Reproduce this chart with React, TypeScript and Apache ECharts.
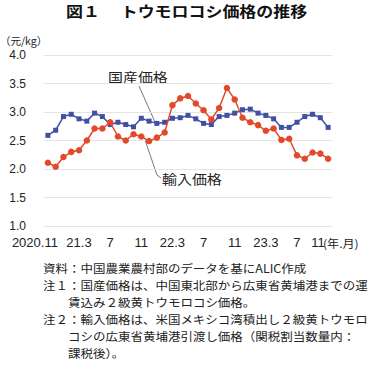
import React, { useEffect, useRef } from "react";
import * as echarts from "echarts";

const months = [
  "2020.11", "2020.12",
  "2021.1", "2021.2", "2021.3", "2021.4", "2021.5", "2021.6", "2021.7", "2021.8", "2021.9", "2021.10", "2021.11", "2021.12",
  "2022.1", "2022.2", "2022.3", "2022.4", "2022.5", "2022.6", "2022.7", "2022.8", "2022.9", "2022.10", "2022.11", "2022.12",
  "2023.1", "2023.2", "2023.3", "2023.4", "2023.5", "2023.6", "2023.7", "2023.8", "2023.9", "2023.10", "2023.11",
];

const domesticPrice = [
  2.59, 2.68, 2.92, 2.96, 2.88, 2.84, 2.98, 2.92, 2.78, 2.82, 2.78, 2.74,
  2.89, 2.84, 2.80, 2.82, 2.89, 2.90, 2.94, 2.88, 2.80, 2.78, 2.92, 2.94,
  2.98, 3.04, 3.05, 2.98, 2.94, 2.88, 2.73, 2.73, 2.82, 2.92, 2.96, 2.90, 2.73,
];

const importPrice = [
  2.11, 2.04, 2.21, 2.30, 2.33, 2.50, 2.71, 2.71, 2.82, 2.57, 2.50, 2.61,
  2.57, 2.49, 2.55, 2.64, 3.12, 3.24, 3.28, 3.15, 3.03, 2.87, 3.07, 3.42,
  3.22, 2.90, 2.82, 2.77, 2.67, 2.71, 2.51, 2.53, 2.24, 2.18, 2.29, 2.27, 2.18,
];

const yTicks = { min: 1.0, max: 4.0, interval: 0.5 };

const titleText = "図１　 トウモロコシ価格の推移";
const unitText = "（元/kg）";
const xUnitText = "(年.月)";
const domesticName = "国産価格";
const importName = "輸入価格";
const notes = [
  { text: "資料：中国農業農村部のデータを基にALIC作成", indent: false },
  { text: "注１：国産価格は、中国東北部から広東省黄埔港までの運", indent: false },
  { text: "賃込み２級黄トウモロコシ価格。", indent: true },
  { text: "注２：輸入価格は、米国メキシコ湾積出し２級黄トウモロ", indent: false },
  { text: "コシの広東省黄埔港引渡し価格（関税割当数量内：", indent: true },
  { text: "課税後）。", indent: true },
];

const JP = '"Noto Sans CJK JP", "Noto Sans", sans-serif';
const NUM = '"Liberation Sans", Arial, sans-serif';

export default function App() {
  const ref = useRef<HTMLDivElement>(null);

  useEffect(() => {
    if (!ref.current) return;
    const chart = echarts.init(ref.current, undefined, { renderer: "svg" });

    const last = months.length - 1;
    const noteEls = notes.map((n, i) => ({
      type: "text",
      x: n.indent ? 68 : 43,
      y: 267.5 + i * 17,
      scaleX: 1.087,
      style: {
        text: n.text,
        fontSize: 11.5,
        fontFamily: JP,
        fill: "#222",
        align: "left",
        verticalAlign: "middle",
      },
    }));

    chart.setOption({
      animation: false,
      backgroundColor: "#fff",
      grid: { left: 44, right: 48, top: 55, height: 171, containLabel: false },
      xAxis: {
        type: "category",
        data: months,
        boundaryGap: true,
        axisLine: { show: false },
        axisTick: { show: false },
        splitLine: { show: false },
        axisLabel: {
          interval: 3,
          margin: 10,
          fontSize: 13,
          fontFamily: NUM,
          color: "#222",
          formatter: (v: string, i: number) => {
            const [y, m] = v.split(".");
            if (i === 0) return "{f|" + v + "}";
            const t = m === "3" ? y.slice(2) + ".3" : m;
            if (i === last) return "{l|" + t + "}";
            return t;
          },
          rich: {
            f: { fontSize: 13, fontFamily: NUM, color: "#222", padding: [0, 26, 0, 0] },
            l: { fontSize: 13, fontFamily: NUM, color: "#222", padding: [0, 20, 0, 0] },
          },
        },
      },
      yAxis: {
        type: "value",
        min: yTicks.min,
        max: yTicks.max,
        interval: yTicks.interval,
        axisLine: { show: false },
        axisTick: { show: false },
        splitLine: { lineStyle: { color: "#e4e4e4", width: 1 } },
        axisLabel: {
          margin: 18,
          fontSize: 12,
          fontFamily: NUM,
          color: "#222",
          formatter: (v: number) => v.toFixed(1),
        },
      },
      series: [
        {
          name: domesticName,
          type: "line",
          data: domesticPrice,
          symbol: "rect",
          symbolSize: 5,
          showAllSymbol: true,
          itemStyle: { color: "#4050a3" },
          lineStyle: { color: "#4050a3", width: 1.5 },
          z: 2,
        },
        {
          name: importName,
          type: "line",
          data: importPrice,
          symbol: "circle",
          symbolSize: 6.5,
          showAllSymbol: true,
          itemStyle: { color: "#e2492b" },
          lineStyle: { color: "#e2492b", width: 1.5 },
          z: 3,
        },
      ],
      graphic: [
        {
          type: "text",
          x: 66,
          y: 11,
          scaleX: 1.17,
          style: {
            text: titleText,
            fontSize: 14.5,
            fontWeight: "bold",
            fontFamily: JP,
            fill: "#111",
            align: "left",
            verticalAlign: "middle",
          },
        },
        {
          type: "text",
          x: 0,
          y: 40,
          style: {
            text: unitText,
            fontSize: 10.5,
            fontFamily: JP,
            fill: "#222",
            align: "left",
            verticalAlign: "middle",
          },
        },
        {
          type: "text",
          x: 323,
          y: 243,
          scaleX: 1.1,
          style: {
            text: xUnitText,
            fontSize: 11,
            fontFamily: JP,
            fill: "#222",
            align: "left",
            verticalAlign: "middle",
          },
        },
        {
          type: "text",
          x: 108,
          y: 76,
          scaleX: 1.15,
          style: {
            text: domesticName,
            fontSize: 13,
            fontFamily: JP,
            fill: "#222",
            align: "left",
            verticalAlign: "middle",
          },
        },
        {
          type: "line",
          shape: { x1: 139, y1: 86, x2: 155, y2: 122 },
          style: { stroke: "#555", lineWidth: 0.8 },
        },
        {
          type: "text",
          x: 162,
          y: 178.5,
          scaleX: 1.15,
          style: {
            text: importName,
            fontSize: 13,
            fontFamily: JP,
            fill: "#222",
            align: "left",
            verticalAlign: "middle",
          },
        },
        {
          type: "polyline",
          shape: { points: [[145, 140], [157, 175], [161, 178]] },
          style: { stroke: "#555", lineWidth: 0.8, fill: "none" },
        },
        ...noteEls,
      ],
    });

    return () => chart.dispose();
  }, []);

  return (
    <div
      ref={ref}
      style={{ position: "absolute", left: 0, top: 0, width: 380, height: 366 }}
    />
  );
}
